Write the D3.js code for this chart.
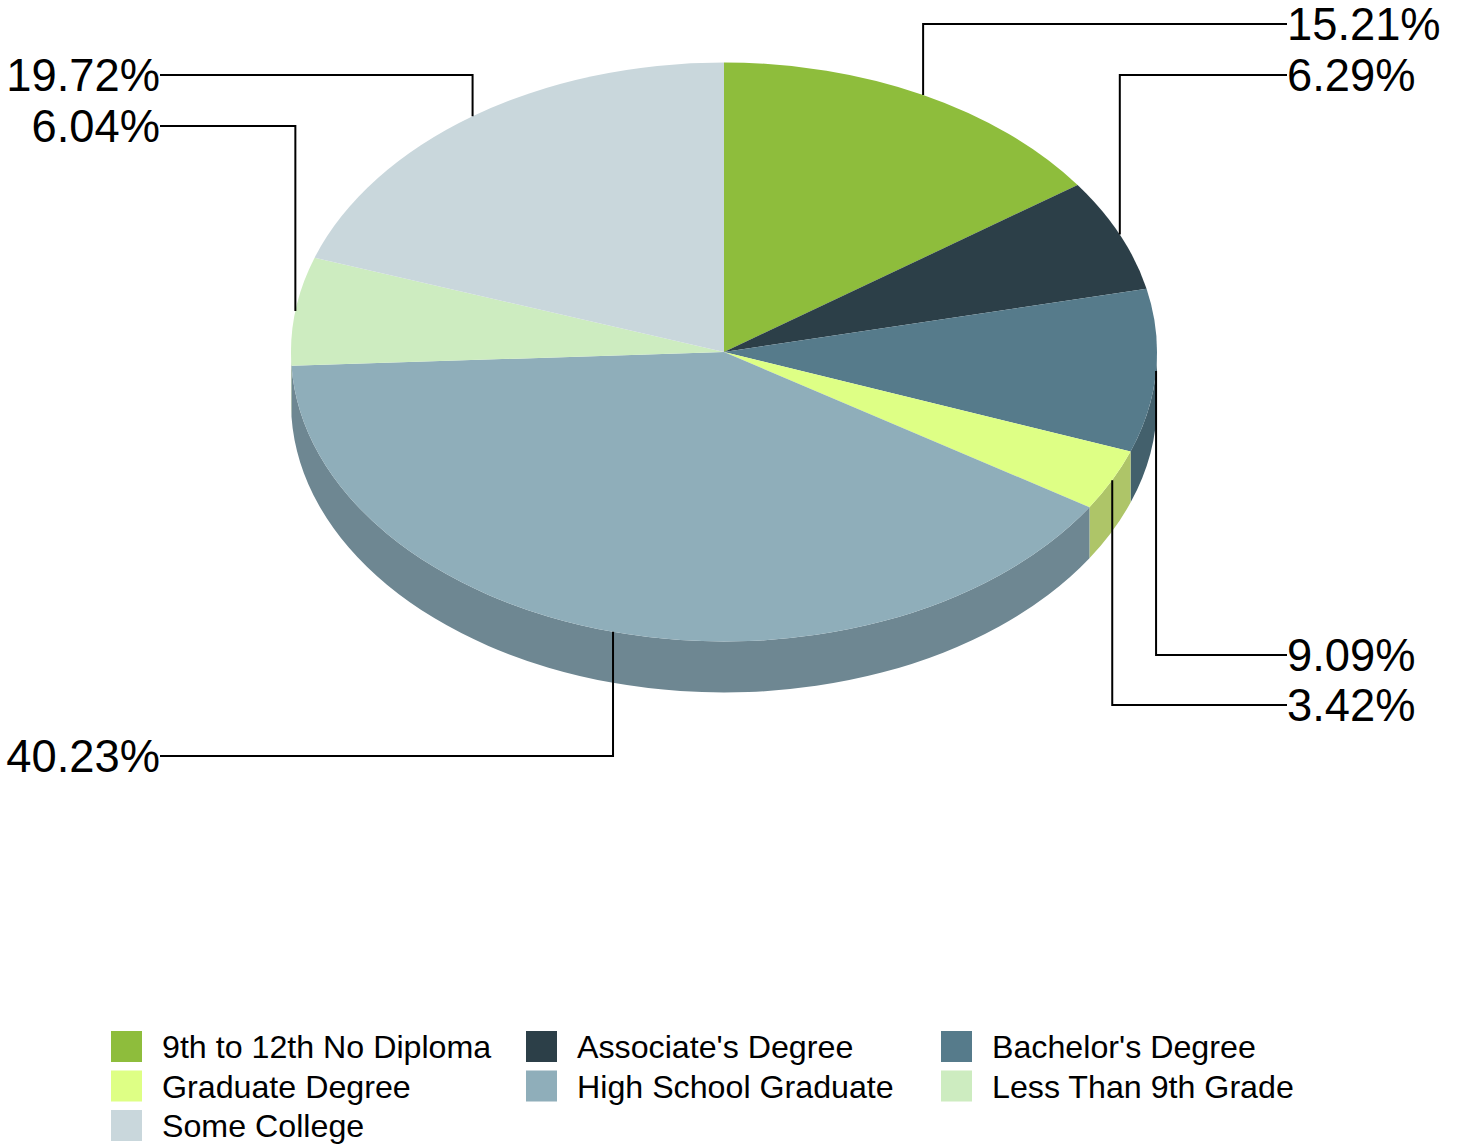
<!DOCTYPE html>
<html>
<head>
<meta charset="utf-8">
<script src="https://cdn.jsdelivr.net/npm/d3@7"></script>
<style>
  body { margin: 0; background: #fff; }
  text { font-family: "Liberation Sans", Arial, sans-serif; fill: #000; }
</style>
</head>
<body>
<div id="chart"></div>
<script>
var categories = ["9th to 12th No Diploma", "Associate's Degree", "Bachelor's Degree",
  "Graduate Degree", "High School Graduate", "Less Than 9th Grade", "Some College"];
var shares = [15.21, 6.29, 9.09, 3.42, 40.23, 6.04, 19.72];
var topColors = ["#8ebd3c", "#2c3f48", "#567b8b", "#deff85", "#8faeba", "#cdecc0", "#c9d7dc"];
var sideColors = ["#6f9430", "#223138", "#43606c", "#aec568", "#6e8792", "#a2b997", "#9da8ac"];
// where each leader line ends up: label row and which side of the pie
var labelRows = [24, 75, 655, 705, 756, 126, 75];
var labelSides = ["right", "right", "right", "right", "left", "left", "left"];

var width = 1461, height = 1148;
var cx = 724, cy = 352, rx = 433, ry = 289.5, depth = 51;

var svg = d3.select('#chart').append('svg')
    .attr('width', width)
    .attr('height', height)
    .style('display', 'block');

var pie = d3.pie().sort(null).value(function(d) { return d; });
var arcs = pie(shares);

function px(a) { return cx + rx * Math.sin(a); }
function py(a) { return cy - ry * Math.cos(a); }

// side wall, only the part of the rim that faces the viewer
function sidePath(d) {
  var a0 = Math.max(d.startAngle, Math.PI / 2);
  var a1 = Math.min(d.endAngle, 3 * Math.PI / 2);
  if (a1 <= a0) return null;
  return 'M' + px(a0) + ',' + py(a0) +
    'A' + rx + ',' + ry + ' 0 0 1 ' + px(a1) + ',' + py(a1) +
    'L' + px(a1) + ',' + (py(a1) + depth) +
    'A' + rx + ',' + ry + ' 0 0 0 ' + px(a0) + ',' + (py(a0) + depth) + 'Z';
}

svg.selectAll('path.side')
    .data(arcs.filter(function(d) { return sidePath(d); }))
    .enter()
    .append('path')
    .attr('class', 'side')
    .attr('d', sidePath)
    .attr('fill', function(d) { return sideColors[d.index]; });

var arc = d3.arc().innerRadius(0).outerRadius(rx);

svg.append('g')
    .attr('transform', 'translate(' + cx + ',' + cy + ') scale(1,' + (ry / rx) + ')')
    .selectAll('path')
    .data(arcs)
    .enter()
    .append('path')
    .attr('d', arc)
    .attr('fill', function(d) { return topColors[d.index]; });

// leader lines go up or down from the middle of the slice edge, then across
var leaderX = { right: 1287, left: 160 };

svg.selectAll('path.leader')
    .data(arcs)
    .enter()
    .append('path')
    .attr('class', 'leader')
    .attr('fill', 'none')
    .attr('stroke', '#000')
    .attr('stroke-width', 2)
    .attr('d', function(d) {
      var a = (d.startAngle + d.endAngle) / 2;
      return 'M' + px(a) + ',' + py(a) +
        'V' + labelRows[d.index] +
        'H' + leaderX[labelSides[d.index]];
    });

svg.selectAll('text.pct')
    .data(arcs)
    .enter()
    .append('text')
    .attr('class', 'pct')
    .attr('x', function(d) { return leaderX[labelSides[d.index]]; })
    .attr('y', function(d) { return labelRows[d.index] + 15.5; })
    .attr('text-anchor', function(d) { return labelSides[d.index] === 'right' ? 'start' : 'end'; })
    .style('font-size', '45.3px')
    .text(function(d) { return d.value.toFixed(2) + '%'; });

// legend, three columns filled row by row
var legendCols = 3;
var legend = svg.selectAll('g.legend')
    .data(categories)
    .enter()
    .append('g')
    .attr('class', 'legend')
    .attr('transform', function(d, i) {
      return 'translate(' + (111 + (i % legendCols) * 415) + ',' +
        (1031 + Math.floor(i / legendCols) * 39.5) + ')';
    });

legend.append('rect')
    .attr('width', 31)
    .attr('height', 31)
    .attr('fill', function(d, i) { return topColors[i]; });

legend.append('text')
    .attr('x', 51)
    .attr('y', 27)
    .style('font-size', '32.2px')
    .text(function(d) { return d; });
</script>
</body>
</html>
